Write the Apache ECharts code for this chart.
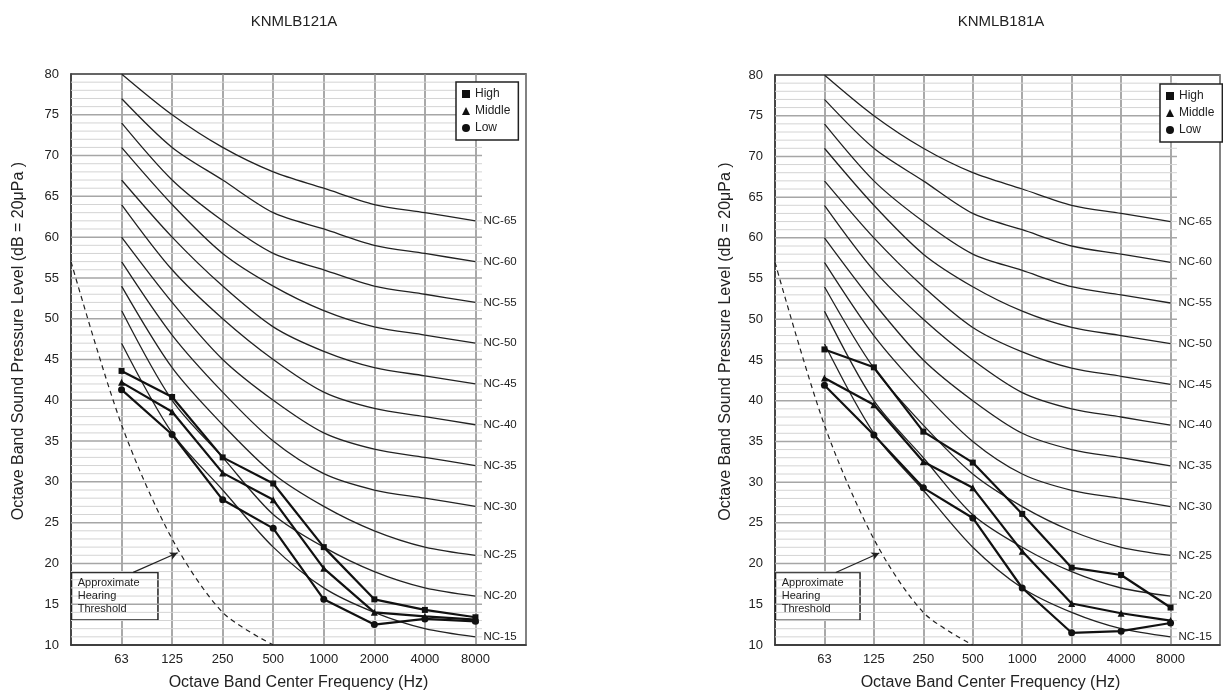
<!DOCTYPE html>
<html><head><meta charset="utf-8">
<script src="https://cdn.jsdelivr.net/npm/echarts@6/dist/echarts.min.js"></script>
<style>html,body{margin:0;padding:0;background:#fff}#c{width:1223px;height:696px}</style>
</head><body><div id="c"></div>
<script>
// ---------- DATA ----------
// x axis: position 0 = left border, 1..8 = octave bands, 9 = right border
const bandLabels = ['63', '125', '250', '500', '1000', '2000', '4000', '8000'];
const bandIndex = [1, 2, 3, 4, 5, 6, 7, 8];

// NC reference curves (dB at 63..8000 Hz)
const nc65 = [80, 75, 71, 68, 66, 64, 63, 62];
const nc60 = [77, 71, 67, 63, 61, 59, 58, 57];
const nc55 = [74, 67, 62, 58, 56, 54, 53, 52];
const nc50 = [71, 64, 58, 54, 51, 49, 48, 47];
const nc45 = [67, 60, 54, 49, 46, 44, 43, 42];
const nc40 = [64, 56, 50, 45, 41, 39, 38, 37];
const nc35 = [60, 52, 45, 40, 36, 34, 33, 32];
const nc30 = [57, 48, 41, 35, 31, 29, 28, 27];
const nc25 = [54, 44, 37, 31, 27, 24, 22, 21];
const nc20 = [51, 40, 33, 26, 22, 19, 17, 16];
const nc15 = [47, 36, 29, 22, 17, 14, 12, 11];
const ncNames = ['NC-65', 'NC-60', 'NC-55', 'NC-50', 'NC-45', 'NC-40', 'NC-35', 'NC-30', 'NC-25', 'NC-20', 'NC-15'];
const ncValues = [nc65, nc60, nc55, nc50, nc45, nc40, nc35, nc30, nc25, nc20, nc15];

// approximate hearing threshold (dashed)
const thresholdIndex = [0, 1, 2, 3, 4];
const thresholdDb = [57, 37, 23, 14, 10];

// KNMLB121A measured levels
const a121High = [43.6, 40.4, 33.0, 29.8, 22.0, 15.6, 14.3, 13.4];
const a121Middle = [42.2, 38.6, 31.1, 27.8, 19.4, 14.0, 13.5, 13.1];
const a121Low = [41.3, 35.8, 27.8, 24.3, 15.6, 12.5, 13.2, 12.9];

// KNMLB181A measured levels
const a181High = [46.3, 44.1, 36.2, 32.4, 26.1, 19.5, 18.6, 14.6];
const a181Middle = [42.8, 39.5, 32.5, 29.3, 21.5, 15.1, 13.9, 13.0];
const a181Low = [41.9, 35.8, 29.3, 25.6, 17.0, 11.5, 11.7, 12.7];

const chartTitles = ['KNMLB121A', 'KNMLB181A'];
const levelNames = ['High', 'Middle', 'Low'];
const levelSymbols = ['rect', 'triangle', 'circle'];
const panelData = [[a121High, a121Middle, a121Low], [a181High, a181Middle, a181Low]];

// ---------- LAYOUT / STYLE ----------
const FONT = '"Liberation Sans", Arial, Helvetica, sans-serif';
const panels = [
  { left: 71, top: 74, width: 455, height: 574, titleX: 294, legendLeft: 456, legendTop: 82, yGap: 44, xPad: [0, 0, 0, 0] },
  { left: 775, top: 75, width: 455, height: 574, titleX: 1001, legendLeft: 1160, legendTop: 84, yGap: 41, xPad: [0, 14, 0, 0] }
];
const gridEnd = 8.13;          // horizontal grid lines stop just past 8000
const boxFrom = [0.01, 18.9];  // annotation box (data coords)
const boxTo = [1.72, 13.05];
const arrowFrom = [1.23, 18.9];
const arrowTo = [2.11, 21.3];

const gridVals = [];
for (let v = 11; v < 80; v++) gridVals.push([0, v]);

const option = {
  animation: false,
  backgroundColor: '#fff',
  textStyle: { fontFamily: FONT },
  grid: [], xAxis: [], yAxis: [], series: [], legend: [],
  graphic: []
};

panels.forEach((p, i) => {
  option.grid.push({ left: p.left, top: p.top, width: p.width, height: p.height, show: true, borderColor: '#333', borderWidth: 1.5, backgroundColor: '#fff' });
  option.xAxis.push({
    gridIndex: i, type: 'value', min: 0, max: 9, interval: 1,
    name: 'Octave Band Center Frequency (Hz)', nameLocation: 'middle', nameGap: 30,
    nameTextStyle: { fontSize: 16, color: '#222', fontFamily: FONT, padding: p.xPad },
    axisLine: { show: true, lineStyle: { color: '#333', width: 1.5 } },
    axisTick: { show: false },
    axisLabel: { fontSize: 13, color: '#222', margin: 8, fontFamily: FONT,
      formatter: v => (v >= 1 && v <= 8) ? bandLabels[v - 1] : '' },
    splitLine: { show: true, lineStyle: { color: '#8c8c8c', width: 1.5 } }
  });
  option.yAxis.push({
    gridIndex: i, type: 'value', min: 10, max: 80, interval: 5,
    name: 'Octave Band Sound Pressure Level (dB = 20μPa )', nameLocation: 'middle', nameGap: p.yGap, nameRotate: 90,
    nameTextStyle: { fontSize: 16, color: '#222', fontFamily: FONT, padding: [0, 0, 0, 37] },
    axisLine: { show: true, lineStyle: { color: '#333', width: 1.5 } },
    axisTick: { show: false },
    axisLabel: { fontSize: 13, color: '#222', margin: 12, fontFamily: FONT },
    splitLine: { show: false }
  });
  // horizontal grid lines (1 dB minor, 5 dB major)
  option.series.push({
    type: 'custom', xAxisIndex: i, yAxisIndex: i, z: 1, silent: true, clip: false,
    data: gridVals, encode: { x: 0, y: 1 },
    renderItem: (params, api) => {
      const v = api.value(1);
      const a = api.coord([0, v]);
      const b = api.coord([gridEnd, v]);
      const major = v % 5 === 0;
      return { type: 'line', shape: { x1: a[0], y1: a[1], x2: b[0], y2: b[1] },
        style: { stroke: major ? '#a6a6a6' : '#d4d4d4', lineWidth: major ? 1.5 : 1 } };
    }
  });
  // NC curves
  ncValues.forEach((vals, k) => {
    option.series.push({
      type: 'line', name: ncNames[k], xAxisIndex: i, yAxisIndex: i, z: 3, silent: true,
      data: bandIndex.map((x, j) => [x, vals[j]]),
      smooth: 0.3, showSymbol: false, symbol: 'none',
      lineStyle: { color: '#222', width: 1.3 },
      endLabel: { show: true, formatter: ncNames[k], distance: 8, fontSize: 11.5, color: '#222', fontFamily: FONT }
    });
  });
  // hearing threshold + annotation
  option.series.push({
    type: 'line', name: 'threshold', xAxisIndex: i, yAxisIndex: i, z: 4, silent: true,
    data: thresholdIndex.map((x, j) => [x, thresholdDb[j]]),
    smooth: 0.3, showSymbol: false, symbol: 'none',
    lineStyle: { color: '#222', width: 1.2, type: [5, 4] },
    markArea: {
      silent: true,
      itemStyle: { color: '#fff', borderColor: '#222', borderWidth: 1.5, opacity: 1 },
      label: { show: true, position: 'insideTopLeft', distance: 5, formatter: 'Approximate\nHearing\nThreshold',
        fontSize: 11, lineHeight: 13, color: '#222', fontFamily: FONT, padding: [0, 0, 0, 2] },
      data: [[{ coord: boxFrom }, { coord: boxTo }]]
    },
    markLine: {
      silent: true, symbol: ['none', 'arrow'], symbolSize: [6, 8],
      lineStyle: { color: '#222', width: 1.2, type: 'solid' },
      label: { show: false },
      data: [[{ coord: arrowFrom }, { coord: arrowTo }]]
    }
  });
  // measured series
  panelData[i].forEach((vals, k) => {
    option.series.push({
      type: 'line', name: levelNames[k], xAxisIndex: i, yAxisIndex: i, z: 5,
      data: bandIndex.map((x, j) => [x, vals[j]]),
      symbol: levelSymbols[k], symbolSize: k === 0 ? 6 : 7, showSymbol: true,
      lineStyle: { color: '#111', width: 2.2 },
      itemStyle: { color: '#111' }
    });
  });
  option.legend.push({
    left: p.legendLeft, top: p.legendTop, orient: 'vertical',
    backgroundColor: '#fff', borderColor: '#222', borderWidth: 1.5,
    padding: [6, 8, 6, 6], itemGap: 5, itemWidth: 8, itemHeight: 8,
    textStyle: { fontSize: 12, color: '#222', fontFamily: FONT },
    selectedMode: false,
    data: levelNames.map((n, k) => ({ name: n, icon: levelSymbols[k] }))
  });
  option.graphic.push({
    type: 'text', x: p.titleX, y: 22, silent: true,
    style: { text: chartTitles[i], fill: '#222', font: '15px ' + FONT, align: 'center', verticalAlign: 'middle' }
  });
});

const chart = echarts.init(document.getElementById('c'), null, { renderer: 'canvas' });
chart.setOption(option);
</script></body></html>
